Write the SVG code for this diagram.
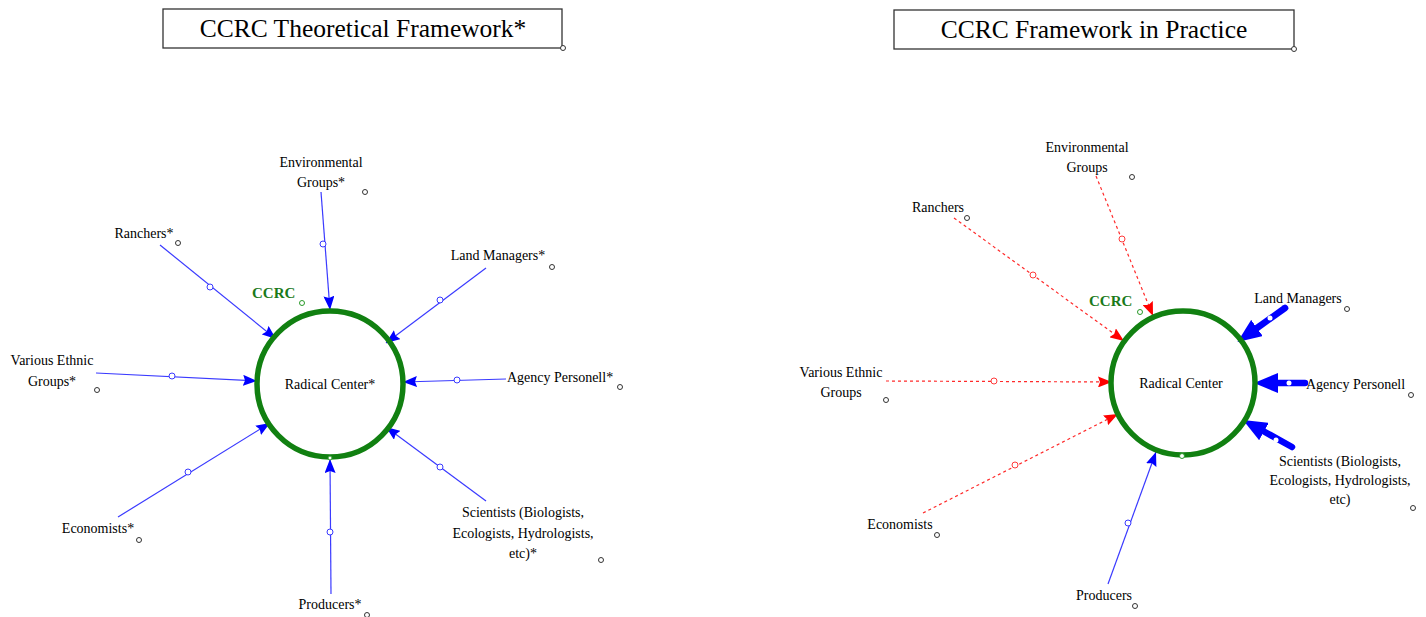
<svg xmlns="http://www.w3.org/2000/svg" width="1426" height="617" viewBox="0 0 1426 617">
<style>
text{font-family:"Liberation Serif","Times New Roman",serif;fill:#000}
.title{font-size:25.5px;text-anchor:middle}
.lbl{font-size:14px;text-anchor:middle}
.lbls{font-size:14px}
.ccrc{font-size:15px;font-weight:bold;fill:#1a7a1a}
.box{fill:#fff;stroke:#333;stroke-width:1.3}
.ring{fill:none;stroke:#118011;stroke-width:5.5}
.hnd{fill:#fff;stroke:#333;stroke-width:1}
.hg{fill:#fff;stroke:#2a9a2a;stroke-width:1}
.thin{stroke:#3a3aff;stroke-width:1.2;fill:none;marker-end:url(#ab)}
.dash{stroke:#ff2a2a;stroke-width:1.2;fill:none;stroke-dasharray:3 3;marker-end:url(#ar)}
.thick{stroke:#0000ff;stroke-width:6.5;fill:none;stroke-linecap:round;marker-end:url(#at)}
.mb{fill:#fff;stroke:#3a3aff;stroke-width:1}
.mr{fill:#fff;stroke:#ff3a3a;stroke-width:1}
.mw{fill:#fff;stroke:none}
</style>
<defs>
<marker id="ab" markerUnits="userSpaceOnUse" viewBox="0 0 14 11" refX="14" refY="5.5" markerWidth="14" markerHeight="11" orient="auto"><path d="M0,0 L14,5.5 L0,11 L2,5.5 z" fill="#0000ff"/></marker>
<marker id="ar" markerUnits="userSpaceOnUse" viewBox="0 0 14 11" refX="14" refY="5.5" markerWidth="14" markerHeight="11" orient="auto"><path d="M0,0 L14,5.5 L0,11 L2,5.5 z" fill="#ff0000"/></marker>
<marker id="at" markerUnits="userSpaceOnUse" viewBox="0 0 24 20" refX="0" refY="10" markerWidth="24" markerHeight="20" orient="auto"><path d="M0,0 L24,10 L0,20 z" fill="#0000ff"/></marker>
</defs>

<g id="title-left">
<rect class="box" x="163" y="9" width="399" height="39"/>
<text class="title" x="363" y="37">CCRC Theoretical Framework*</text>
<circle class="hnd" cx="563" cy="48" r="2.5"/>
</g>
<g id="title-right">
<rect class="box" x="894" y="10" width="400" height="39"/>
<text class="title" x="1094" y="38">CCRC Framework in Practice</text>
<circle class="hnd" cx="1294" cy="49" r="2.5"/>
</g>

<g id="connectors">
<path class="thin" d="M321,192 L330,310"/>
<path class="thin" d="M160,245 L276,339"/>
<path class="thin" d="M486,268 L386,343"/>
<path class="thin" d="M96,373 L257,381"/>
<path class="thin" d="M506,379 L403,382"/>
<path class="thin" d="M118,517 L270,423"/>
<path class="thin" d="M486,501 L386,427"/>
<path class="thin" d="M331,594 L330,459"/>
<circle class="mb" cx="323" cy="244" r="3"/>
<circle class="mb" cx="210" cy="287" r="3"/>
<circle class="mb" cx="440" cy="300" r="3"/>
<circle class="mb" cx="172" cy="376" r="3"/>
<circle class="mb" cx="457" cy="380" r="3"/>
<circle class="mb" cx="188" cy="472" r="3"/>
<circle class="mb" cx="440" cy="467" r="3"/>
<circle class="mb" cx="330" cy="532" r="3"/>

<path class="dash" d="M1096,176 L1153,316"/>
<path class="dash" d="M954,218 L1124,341"/>
<path class="dash" d="M886,381 L1112,382"/>
<path class="dash" d="M923,513 L1118,414"/>
<path class="thin" d="M1108,584 L1156,452"/>
<circle class="mr" cx="1122" cy="239" r="3"/>
<circle class="mr" cx="1033" cy="275" r="3"/>
<circle class="mr" cx="994" cy="381" r="3"/>
<circle class="mr" cx="1015" cy="465" r="3"/>
<circle class="mb" cx="1128" cy="523" r="3"/>

<path class="thick" d="M1285,308 L1257,328"/>
<path class="thick" d="M1305,383 L1278,383"/>
<path class="thick" d="M1292,447 L1264,431.5"/>
<circle class="mw" cx="1270" cy="318" r="2.5"/>
<circle class="mw" cx="1289" cy="383" r="2.5"/>
<circle class="mw" cx="1276" cy="440" r="2.5"/>
</g>

<g id="radical-center-left">
<circle class="ring" cx="330" cy="384" r="73"/>
<text class="lbl" x="330" y="389">Radical Center*</text>
<circle class="hg" cx="330" cy="458" r="2"/>
</g>
<g id="ccrc-left">
<text class="ccrc" x="252" y="298">CCRC</text>
<circle class="hg" cx="302" cy="303" r="2.5"/>
</g>
<g id="env-left">
<text class="lbl" x="321" y="167">Environmental</text>
<text class="lbl" x="321" y="187">Groups*</text>
<circle class="hnd" cx="365" cy="192" r="2.5"/>
</g>
<g id="ranchers-left">
<text class="lbl" x="144" y="238">Ranchers*</text>
<circle class="hnd" cx="178" cy="243" r="2.5"/>
</g>
<g id="land-left">
<text class="lbl" x="498" y="260">Land Managers*</text>
<circle class="hnd" cx="552" cy="267" r="2.5"/>
</g>
<g id="ethnic-left">
<text class="lbl" x="52" y="365">Various Ethnic</text>
<text class="lbl" x="52" y="386">Groups*</text>
<circle class="hnd" cx="97" cy="390" r="2.5"/>
</g>
<g id="agency-left">
<text class="lbls" x="507" y="382">Agency Personell*</text>
<circle class="hnd" cx="620" cy="387" r="2.5"/>
</g>
<g id="econ-left">
<text class="lbl" x="98" y="533">Economists*</text>
<circle class="hnd" cx="139" cy="540" r="2.5"/>
</g>
<g id="sci-left">
<text class="lbl" x="523" y="517">Scientists (Biologists,</text>
<text class="lbl" x="523" y="538">Ecologists, Hydrologists,</text>
<text class="lbl" x="523" y="558">etc)*</text>
<circle class="hnd" cx="601" cy="560" r="2.5"/>
</g>
<g id="producers-left">
<text class="lbl" x="330" y="609">Producers*</text>
<circle class="hnd" cx="367" cy="615" r="2.5"/>
</g>

<g id="radical-center-right">
<circle class="ring" cx="1183" cy="383" r="72"/>
<text class="lbl" x="1181" y="388">Radical Center</text>
<circle class="hg" cx="1182" cy="456" r="2.5"/>
</g>
<g id="ccrc-right">
<text class="ccrc" x="1089" y="306">CCRC</text>
<circle class="hg" cx="1140" cy="312" r="2.5"/>
</g>
<g id="env-right">
<text class="lbl" x="1087" y="152">Environmental</text>
<text class="lbl" x="1087" y="172">Groups</text>
<circle class="hnd" cx="1132" cy="177" r="2.5"/>
</g>
<g id="ranchers-right">
<text class="lbl" x="938" y="212">Ranchers</text>
<circle class="hnd" cx="967" cy="218" r="2.5"/>
</g>
<g id="land-right">
<text class="lbl" x="1298" y="303">Land Managers</text>
<circle class="hnd" cx="1347" cy="309" r="2.5"/>
</g>
<g id="ethnic-right">
<text class="lbl" x="841" y="377">Various Ethnic</text>
<text class="lbl" x="841" y="397">Groups</text>
<circle class="hnd" cx="886" cy="400" r="2.5"/>
</g>
<g id="agency-right">
<text class="lbls" x="1306" y="389">Agency Personell</text>
<circle class="hnd" cx="1411" cy="395" r="2.5"/>
</g>
<g id="sci-right">
<text class="lbl" x="1340" y="466">Scientists (Biologists,</text>
<text class="lbl" x="1340" y="485">Ecologists, Hydrologists,</text>
<text class="lbl" x="1340" y="504">etc)</text>
<circle class="hnd" cx="1413" cy="508" r="2.5"/>
</g>
<g id="econ-right">
<text class="lbl" x="900" y="529">Economists</text>
<circle class="hnd" cx="937" cy="535" r="2.5"/>
</g>
<g id="producers-right">
<text class="lbl" x="1104" y="600">Producers</text>
<circle class="hnd" cx="1135" cy="606" r="2.5"/>
</g>
</svg>
